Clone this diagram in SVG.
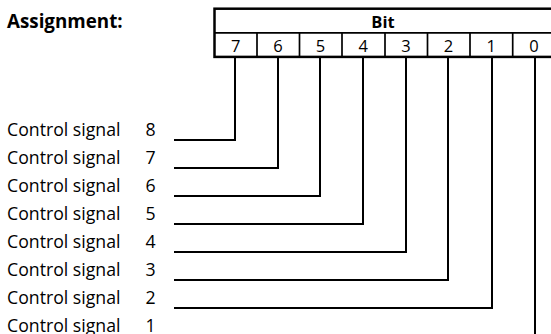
<svg xmlns="http://www.w3.org/2000/svg" width="551" height="334" viewBox="0 0 551 334">
<style>
.lbl{font-family:"Open Sans","Noto Sans","Liberation Sans",sans-serif;font-size:17.7px;fill:#000}
.hd{font-family:"Open Sans","Noto Sans","Liberation Sans",sans-serif;font-weight:bold;fill:#000}
.dg{font-family:"Open Sans","Noto Sans","Liberation Sans",sans-serif;font-size:16.5px;fill:#000;text-anchor:middle}
.box{fill:none;stroke:#000;stroke-width:2.5}
.div{stroke:#000;stroke-width:1.7}
.con{fill:none;stroke:#000;stroke-width:2}
</style>
<rect width="551" height="334" fill="#fff"/>
<g id="title"><text class="hd" x="7" y="27.5" font-size="18.8px">Assignment:</text></g>
<g id="bit-table">
<rect class="box" x="214.5" y="8.7" width="341" height="48.2"/>
<line class="div" x1="214.5" y1="32.8" x2="555.5" y2="32.8"/>
<line class="div" x1="257" y1="32.8" x2="257" y2="56.9"/>
<line class="div" x1="299.5" y1="32.8" x2="299.5" y2="56.9"/>
<line class="div" x1="342" y1="32.8" x2="342" y2="56.9"/>
<line class="div" x1="385" y1="32.8" x2="385" y2="56.9"/>
<line class="div" x1="427.5" y1="32.8" x2="427.5" y2="56.9"/>
<line class="div" x1="470" y1="32.8" x2="470" y2="56.9"/>
<line class="div" x1="512.7" y1="32.8" x2="512.7" y2="56.9"/>
<text class="hd" x="383" y="27.5" font-size="16.5px" text-anchor="middle">Bit</text>
<text class="dg" x="235.6" y="51.5">7</text>
<text class="dg" x="278" y="51.5">6</text>
<text class="dg" x="320.5" y="51.5">5</text>
<text class="dg" x="363.3" y="51.5">4</text>
<text class="dg" x="406" y="51.5">3</text>
<text class="dg" x="448.5" y="51.5">2</text>
<text class="dg" x="491.3" y="51.5">1</text>
<text class="dg" x="534" y="51.5">0</text>
</g>
<g id="labels">
<g id="cs8"><text class="lbl" x="7" y="135.5">Control signal</text><text class="lbl" x="145.5" y="135.5">8</text></g>
<g id="cs7"><text class="lbl" x="7" y="163.6">Control signal</text><text class="lbl" x="145.5" y="163.6">7</text></g>
<g id="cs6"><text class="lbl" x="7" y="191.7">Control signal</text><text class="lbl" x="145.5" y="191.7">6</text></g>
<g id="cs5"><text class="lbl" x="7" y="219.8">Control signal</text><text class="lbl" x="145.5" y="219.8">5</text></g>
<g id="cs4"><text class="lbl" x="7" y="247.9">Control signal</text><text class="lbl" x="145.5" y="247.9">4</text></g>
<g id="cs3"><text class="lbl" x="7" y="276">Control signal</text><text class="lbl" x="145.5" y="276">3</text></g>
<g id="cs2"><text class="lbl" x="7" y="304.1">Control signal</text><text class="lbl" x="145.5" y="304.1">2</text></g>
<g id="cs1"><text class="lbl" x="7" y="331.5">Control signal</text><text class="lbl" x="145.5" y="331.5">1</text></g>
</g>
<g id="connectors">
<path class="con" d="M174 140H235V58"/>
<path class="con" d="M174 168H278V58"/>
<path class="con" d="M174 196H320V58"/>
<path class="con" d="M174 224H363V58"/>
<path class="con" d="M174 252H406V58"/>
<path class="con" d="M174 280H448V58"/>
<path class="con" d="M174 308H492V58"/>
<path class="con" d="M535 58V334"/>
</g>
</svg>
